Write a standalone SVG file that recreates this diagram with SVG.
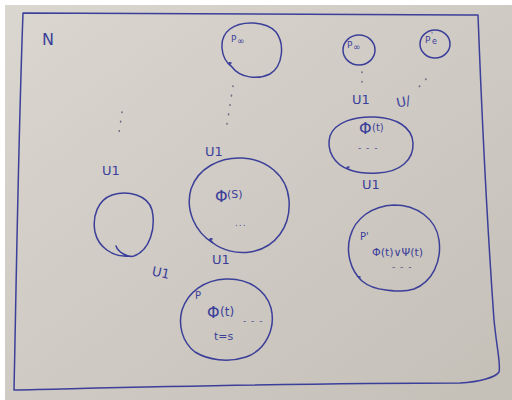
<svg xmlns="http://www.w3.org/2000/svg" width="512" height="400" viewBox="0 0 512 400">
  <defs>
    <linearGradient id="paper" x1="0" y1="0" x2="1" y2="1">
      <stop offset="0" stop-color="#dad6d0"/>
      <stop offset="0.5" stop-color="#cfcac3"/>
      <stop offset="1" stop-color="#c4bfb7"/>
    </linearGradient>
    <style>
      .ink { fill: none; stroke: #3b3f9a; stroke-width: 1.5; stroke-linecap: round; stroke-linejoin: round; }
      .dots { fill: none; stroke: #6a6a80; stroke-width: 1.6; stroke-linecap: round; stroke-dasharray: 0.5 9; }
      .t { font-family: "DejaVu Sans", "Liberation Sans", sans-serif; fill: #3b3f9a; }
      .u { font-size: 13px; }
      .phi { font-size: 16px; }
      .sm { font-size: 9px; }
      .inf { font-size: 9px; }
      .ell { font-family: "DejaVu Sans", sans-serif; fill: #4a4e98; font-size: 9px; letter-spacing: 1px; }
    </style>
  </defs>

  <!-- paper sheet -->
  <rect x="0" y="0" width="512" height="400" fill="#ffffff"/>
  <rect x="5" y="5" width="507" height="395" fill="url(#paper)"/>

  <!-- outer frame N -->
  <g id="frame">
    <path class="ink" d="M23,13 C120,12 300,15 478,15 C482,120 489,250 494,320 C497,350 501,365 499,372 C496,377 480,382 460,383 C300,383 150,387 14,390 C16,300 18,150 23,13 Z"/>
    <text class="t" x="42" y="45" font-size="16">N</text>
  </g>

  <!-- dotted connectors and U1 labels -->
  <g id="connectors">
    <path class="dots" d="M233,86 L227,124"/>
    <path class="dots" d="M362,72 L362,82"/>
    <path class="dots" d="M426,79 L419,87"/>
    <path class="dots" d="M122,112 L118,140"/>
    <text class="t u" x="352" y="104">U1</text>
    <text class="t u" x="396" y="106" transform="rotate(-12 404 100)">U/</text>
    <text class="t u" x="362" y="189">U1</text>
    <text class="t u" x="205" y="156">U1</text>
    <text class="t u" x="212" y="264">U1</text>
    <text class="t u" x="102" y="175">U1</text>
    <text class="t u" x="152" y="277" transform="rotate(12 160 272)">U1</text>
  </g>

  <!-- top P-infinity -->
  <g id="p-inf-top">
    <path class="ink" d="M232,67 C220,58 218,38 230,29 C242,20 266,21 276,32 C285,44 283,66 270,74 C258,80 240,78 232,67 C229,64 228,62 231,63"/>
    <text class="t sm" x="231" y="42">P</text>
    <text class="t inf" x="237" y="44">∞</text>
  </g>

  <!-- small P-infinity -->
  <g id="p-inf-small">
    <ellipse class="ink" cx="359" cy="50" rx="16" ry="15"/>
    <text class="t sm" x="347" y="48">P</text>
    <text class="t inf" x="353" y="50">∞</text>
  </g>

  <!-- small P'e -->
  <g id="p-e">
    <ellipse class="ink" cx="435" cy="44" rx="15" ry="14"/>
    <text class="t sm" x="425" y="43">P</text>
    <text class="t" x="431" y="37" font-size="7">'</text>
    <text class="t" x="432" y="44" font-size="8">e</text>
  </g>

  <!-- phi(t) upper right -->
  <g id="phi-t-upper">
    <path class="ink" d="M350,170 C334,165 326,150 330,136 C335,122 355,116 375,117 C395,118 412,126 413,143 C414,160 400,172 378,173 C365,174 356,172 350,170 C347,168 346,167 349,167"/>
    <text class="t phi" x="359" y="134">Φ</text>
    <text class="t" x="372" y="131" font-size="10">(t)</text>
    <text class="ell" x="358" y="151">- - -</text>
  </g>

  <!-- phi(s) center -->
  <g id="phi-s">
    <path class="ink" d="M213,243 C195,232 185,210 191,189 C198,168 220,157 242,158 C266,159 287,175 289,200 C291,226 276,248 250,252 C236,254 222,250 213,243 C210,240 209,238 212,239"/>
    <text class="t phi" x="215" y="202">Φ</text>
    <text class="t" x="227" y="198" font-size="11">(S)</text>
    <text class="ell" x="235" y="226">...</text>
  </g>

  <!-- left empty circle -->
  <g id="left-node">
    <path class="ink" d="M130,256 C112,258 98,246 95,232 C92,216 98,200 112,195 C128,190 148,195 152,210 C156,228 150,250 134,256 C128,258 118,252 116,246"/>
  </g>

  <!-- P with phi(t), t=s -->
  <g id="p-node">
    <path class="ink" d="M195,352 C182,342 178,325 182,310 C188,292 204,280 226,279 C248,278 266,290 271,308 C276,328 266,350 246,357 C228,363 208,360 195,352 Z"/>
    <text class="t" x="195" y="299" font-size="10">P</text>
    <text class="t phi" x="207" y="318">Φ</text>
    <text class="t" x="220" y="316" font-size="12">(t)</text>
    <text class="t" x="214" y="340" font-size="11">t=s</text>
    <text class="ell" x="243" y="324">- - -</text>
  </g>

  <!-- P' with phi(t) or psi(t) -->
  <g id="p-prime">
    <path class="ink" d="M362,281 C350,270 346,252 350,237 C355,218 372,206 394,205 C416,205 436,218 439,240 C442,262 432,282 414,289 C404,292 396,291 386,290 C376,289 368,286 362,281 C359,278 357,276 360,277"/>
    <text class="t" x="360" y="240" font-size="10">P'</text>
    <text class="t" x="372" y="256" font-size="11">Φ(t)∨Ψ(t)</text>
    <text class="ell" x="392" y="270">- - -</text>
  </g>
</svg>
